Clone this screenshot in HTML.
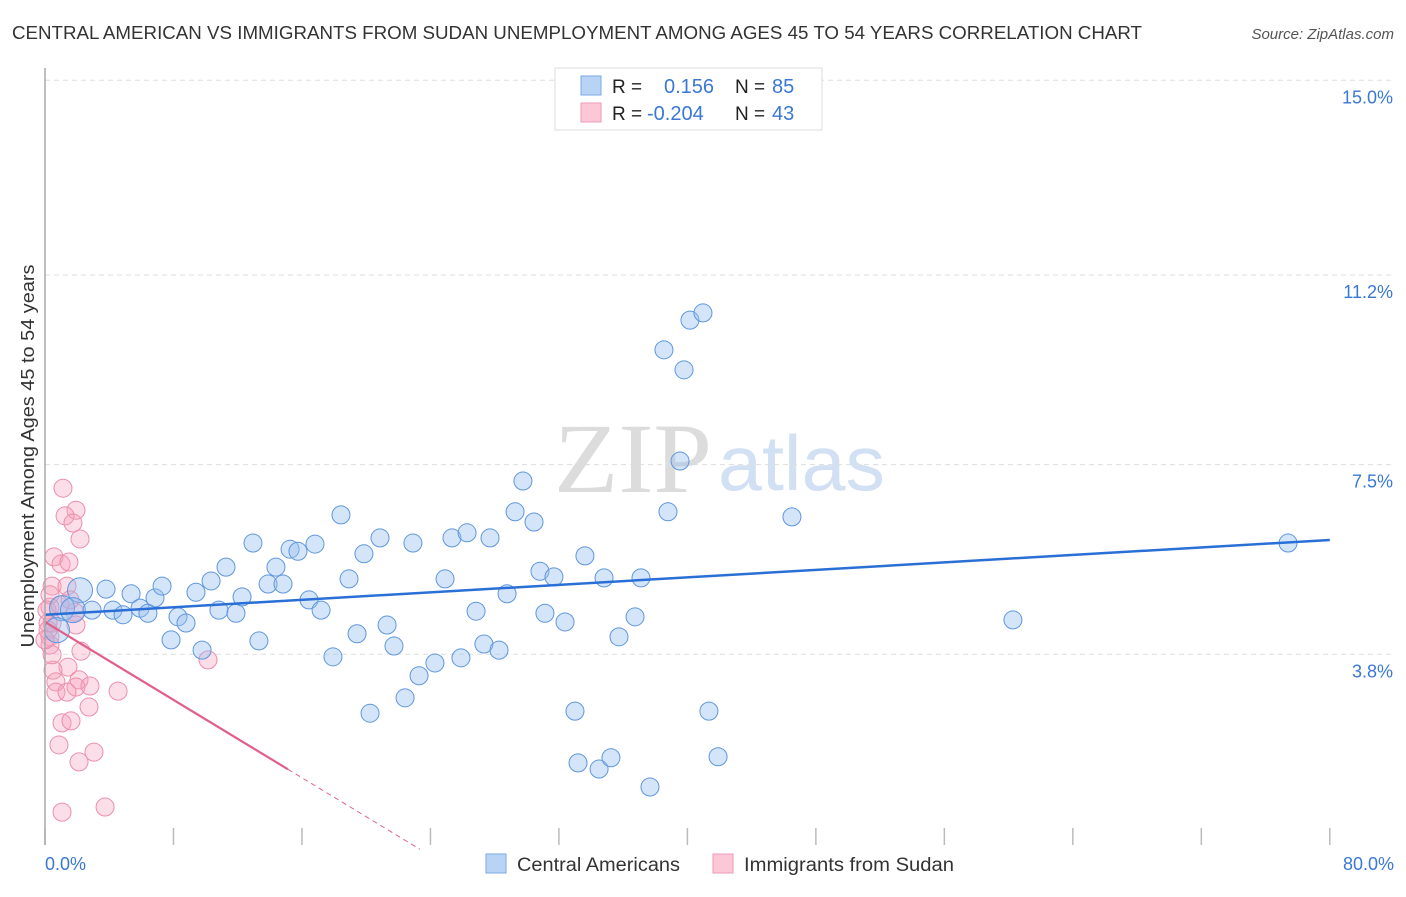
<!DOCTYPE html>
<html><head><meta charset="utf-8"><style>
body{margin:0;background:#fff;font-family:"Liberation Sans",sans-serif;}
svg text{font-family:"Liberation Sans",sans-serif;}
</style></head><body>
<svg id="chart" width="1406" height="892" xmlns="http://www.w3.org/2000/svg">
<text x="12" y="39" font-size="18" fill="#333" textLength="1130" lengthAdjust="spacingAndGlyphs">CENTRAL AMERICAN VS IMMIGRANTS FROM SUDAN UNEMPLOYMENT AMONG AGES 45 TO 54 YEARS CORRELATION CHART</text>
<text x="1394" y="39" font-size="15" fill="#555" font-style="italic" text-anchor="end">Source: ZipAtlas.com</text>
<text x="712" y="492" font-size="100" fill="#dcdcdc" font-family="Liberation Serif" text-anchor="end" textLength="158" lengthAdjust="spacingAndGlyphs" style="font-family:'Liberation Serif',serif">ZIP</text>
<text x="718" y="490" font-size="78" fill="#d2e0f3" textLength="167" lengthAdjust="spacingAndGlyphs">atlas</text>
<g id="grid"></g><g id="ticks"></g><g id="pink"></g><g id="blue"></g><g id="lines"></g>
<line x1="45" y1="68" x2="45" y2="845" stroke="#aaa" stroke-width="1.5"/>
<text transform="translate(34,456) rotate(-90)" font-size="18.5" fill="#333" text-anchor="middle" textLength="383" lengthAdjust="spacingAndGlyphs">Unemployment Among Ages 45 to 54 years</text>
<text x="45" y="870" font-size="18" fill="#3a78d4">0.0%</text>
<text x="1394" y="870" font-size="18" fill="#3a78d4" text-anchor="end">80.0%</text>
<g>
<rect x="555" y="68" width="267" height="62" fill="#fff" stroke="#ddd"/>
<rect x="581" y="76" width="20" height="19" fill="#b9d3f5" stroke="#7aa8e6"/>
<rect x="581" y="103" width="20" height="19" fill="#fcc8d8" stroke="#ee9ab5"/>
<text x="612" y="93" font-size="19" fill="#222">R =</text><text x="664" y="93" font-size="20" fill="#3a78d4">0.156</text>
<text x="735" y="93" font-size="19" fill="#222">N =</text><text x="772" y="93" font-size="20" fill="#3a78d4">85</text>
<text x="612" y="120" font-size="19" fill="#222">R =</text><text x="647" y="120" font-size="20" fill="#3a78d4">-0.204</text>
<text x="735" y="120" font-size="19" fill="#222">N =</text><text x="772" y="120" font-size="20" fill="#3a78d4">43</text>
</g>
<g>
<rect x="486" y="854" width="20" height="19" fill="#b9d3f5" stroke="#7aa8e6"/>
<text x="517" y="871" font-size="19" fill="#333" textLength="163" lengthAdjust="spacingAndGlyphs">Central Americans</text>
<rect x="713" y="854" width="20" height="19" fill="#fcc8d8" stroke="#ee9ab5"/>
<text x="744" y="871" font-size="19" fill="#333" textLength="210" lengthAdjust="spacingAndGlyphs">Immigrants from Sudan</text>
</g>
</svg>
<script>
const yTicks=[3.8,7.5,11.2,15.0];
const xTicks=[0,8,16,24,32,40,48,56,64,72,80];
const blueX=[1.06,2.18,1.74,0.75,2.93,3.80,4.23,4.86,5.36,5.92,6.41,6.85,7.29,7.85,8.28,8.78,9.40,9.78,10.34,10.83,11.27,11.89,12.27,12.95,13.32,13.89,14.38,14.82,15.26,15.75,16.44,16.81,17.19,17.93,18.43,18.93,19.43,19.86,20.24,20.86,21.30,21.73,22.42,22.91,23.29,24.28,24.91,25.34,25.90,26.28,26.84,27.33,27.71,28.27,28.77,29.27,29.76,30.45,30.82,31.13,31.69,32.38,33.00,33.19,33.62,34.50,34.81,35.24,35.74,36.74,37.11,37.67,38.54,38.79,39.54,39.79,40.16,40.97,41.34,41.91,46.51,60.27,77.40];
const blueY=[4.70,5.05,4.66,4.27,4.66,5.07,4.66,4.57,4.98,4.70,4.60,4.90,5.13,4.08,4.53,4.41,5.01,3.88,5.23,4.66,5.50,4.60,4.92,5.97,4.06,5.17,5.50,5.17,5.85,5.81,4.86,5.95,4.66,3.75,6.52,5.27,4.20,5.76,2.65,6.07,4.37,3.96,2.95,5.97,3.38,3.63,5.27,6.07,3.73,6.17,4.64,4.00,6.07,3.88,4.98,6.58,7.18,6.38,5.42,4.60,5.31,4.43,2.69,1.68,5.72,1.56,5.29,1.78,4.14,4.53,5.29,1.21,9.74,6.58,7.57,9.35,10.32,10.46,2.69,1.80,6.48,4.47,5.97];
const blueBig=[0,1,2,3];
const pinkX=[1.12,1.93,1.25,1.74,2.18,0.56,1.00,1.49,0.44,1.37,0.31,1.87,1.93,0.44,0.31,2.24,1.43,0.50,0.68,2.12,1.93,2.80,0.68,1.37,4.55,2.74,1.06,1.62,0.87,3.05,2.12,1.06,3.74,10.15,0.19,0.31,0.19,0.31,0.44,0.12,0.93,0.00,1.56];
const pinkY=[7.04,6.61,6.50,6.36,6.05,5.70,5.56,5.60,5.13,5.13,4.72,4.62,4.37,4.41,4.14,3.86,3.55,3.49,3.26,3.30,3.16,3.18,3.06,3.06,3.08,2.77,2.46,2.50,2.03,1.89,1.70,0.72,0.82,3.69,4.41,4.96,4.27,3.98,3.79,4.66,4.76,4.08,4.86];
const blueTrend=[4.57,6.03];
const pinkTrend=[4.43,-0.19];
const X=v=>45+v*16.06, Y=v=>849-v*51.25;
const NS='http://www.w3.org/2000/svg';
function mk(p,tag,a){const e=document.createElementNS(NS,tag);for(const k in a)e.setAttribute(k,a[k]);document.getElementById(p).appendChild(e);return e;}
yTicks.forEach(t=>{
 const l=mk('grid','line',{x1:45,x2:1394,y1:Y(t),y2:Y(t),stroke:'#ddd','stroke-dasharray':'5,4'});
 
 
 const tx=mk('grid','text',{x:1393,y:Y(t)+23,'font-size':18,fill:'#3a78d4','text-anchor':'end'});
 tx.textContent=t.toFixed(1)+'%';
 
 
});
xTicks.forEach(t=>{
 const l=mk('ticks','line',{x1:X(t),x2:X(t),y1:828,y2:845,stroke:'#bbb','stroke-width':1.5});
 
 
});
pinkX.forEach((x,i)=>{
 const c=mk('pink','circle',{cx:X(x),cy:Y(pinkY[i]),r:9,fill:'rgba(246,160,188,0.35)',stroke:'#ec8fab','stroke-width':1});
 
 
});
blueX.forEach((x,i)=>{
 const big=blueBig.includes(i);
 const c=mk('blue','circle',{cx:X(x),cy:Y(blueY[i]),r:big?12.5:9,fill:'rgba(150,190,240,0.4)',stroke:'#5f97de','stroke-width':1});
 
 
});
let l=mk('lines','line',{x1:X(0),y1:Y(blueTrend[0]),x2:X(80),y2:Y(blueTrend[1]),stroke:'#2a6fd6','stroke-width':2.5});


const pe=15.13, pd=23.35;
l=mk('lines','line',{x1:X(0),y1:Y(pinkTrend[0]),x2:X(pe),y2:Y(pinkTrend[0]+pinkTrend[1]*pe),stroke:'#e0608a','stroke-width':2.2});


l=mk('lines','line',{x1:X(pe),y1:Y(pinkTrend[0]+pinkTrend[1]*pe),x2:X(pd),y2:Y(pinkTrend[0]+pinkTrend[1]*pd),stroke:'#e0608a','stroke-width':1,'stroke-dasharray':'5,4'});


</script>
</body></html>
